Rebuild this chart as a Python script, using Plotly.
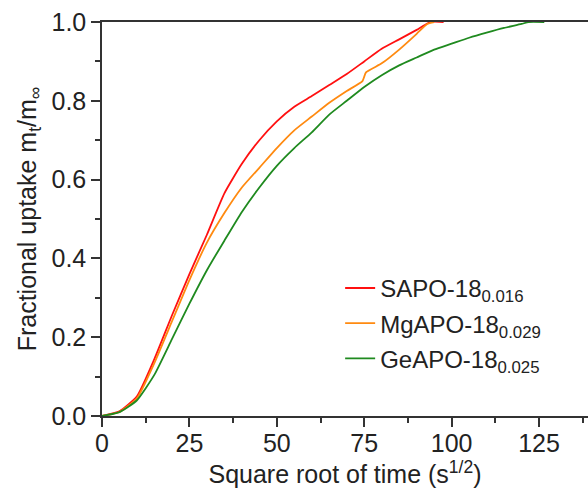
import plotly.graph_objects as go

# Fractional uptake curves vs square root of time
sapo_x = [0, 5, 10, 15, 20, 25, 30, 35, 40, 45, 50, 55, 60, 65, 70, 75, 80, 85, 90, 94, 97.7]
sapo_y = [0.0, 0.012, 0.05, 0.145, 0.255, 0.36, 0.46, 0.565, 0.64, 0.70, 0.748, 0.785, 0.812,
          0.84, 0.868, 0.90, 0.932, 0.956, 0.98, 1.0, 1.0]

mgapo_x = [0, 5, 10, 15, 20, 25, 30, 35, 40, 45, 50, 55, 60, 65, 70, 74.5, 75.5, 80, 85, 90, 93, 95]
mgapo_y = [0.0, 0.01, 0.045, 0.135, 0.24, 0.345, 0.44, 0.515, 0.58, 0.63, 0.68, 0.725, 0.76,
           0.795, 0.825, 0.85, 0.872, 0.895, 0.93, 0.97, 0.995, 1.0]

geapo_x = [0, 5, 10, 15, 20, 25, 30, 35, 40, 45, 50, 55, 60, 65, 70, 75, 80, 85, 90, 95,
           100, 105, 110, 115, 120, 122, 126.5]
geapo_y = [0.0, 0.01, 0.04, 0.105, 0.195, 0.285, 0.37, 0.445, 0.518, 0.58, 0.635, 0.68, 0.72,
           0.765, 0.80, 0.835, 0.865, 0.89, 0.91, 0.93, 0.945, 0.96, 0.973, 0.985, 0.995, 1.0, 1.0]

series = [
    ("SAPO-18<sub>0.016</sub>", sapo_x, sapo_y, "#ff1010"),
    ("MgAPO-18<sub>0.029</sub>", mgapo_x, mgapo_y, "#ff8a10"),
    ("GeAPO-18<sub>0.025</sub>", geapo_x, geapo_y, "#1f8a1f"),
]

fig = go.Figure()
for i, (name, xs, ys, color) in enumerate(series):
    fig.add_trace(go.Scatter(x=xs, y=ys, mode="lines", name=name, legendgroup=f"g{i}",
                             line=dict(color=color, width=1.8, shape="spline", smoothing=0.5)))

font_family = "Liberation Sans, Arial, sans-serif"
axis_color = "#333333"

fig.update_layout(
    width=588, height=490,
    margin=dict(l=102, r=0, t=22, b=74),
    paper_bgcolor="white", plot_bgcolor="white",
    font=dict(family=font_family, size=25, color="#222222"),
    legend=dict(x=0.49, y=0.381, xanchor="left", yanchor="top",
                bgcolor="rgba(0,0,0,0)", font=dict(size=24),
                tracegroupgap=1),
    showlegend=True,
)

fig.update_xaxes(
    range=[0, 139], tickvals=[0, 25, 50, 75, 100, 125],
    ticks="outside", ticklen=9, tickwidth=1.5, tickcolor=axis_color,
    ticklabelstandoff=-5,
    minor=dict(ticks="outside", ticklen=5, tickwidth=1.5, tickcolor=axis_color, dtick=12.5, tick0=0),
    showline=True, linecolor=axis_color, linewidth=1.5, mirror=True,
    showgrid=False, zeroline=False,
    title=dict(text="Square root of time (s<sup>1/2</sup>)", font=dict(size=25), standoff=8),
)
fig.update_yaxes(
    range=[0, 1.0], tickvals=[0, 0.2, 0.4, 0.6, 0.8, 1.0], tickformat=".1f",
    ticks="outside", ticklen=9, tickwidth=1.5, tickcolor=axis_color,
    minor=dict(ticks="outside", ticklen=5, tickwidth=1.5, tickcolor=axis_color, dtick=0.1, tick0=0),
    showline=True, linecolor=axis_color, linewidth=1.5,
    showgrid=False, zeroline=False,
    title=dict(text="Fractional uptake m<sub>t</sub>/m<sub>∞</sub>", font=dict(size=25), standoff=8),
)

fig.write_html("out.html")
